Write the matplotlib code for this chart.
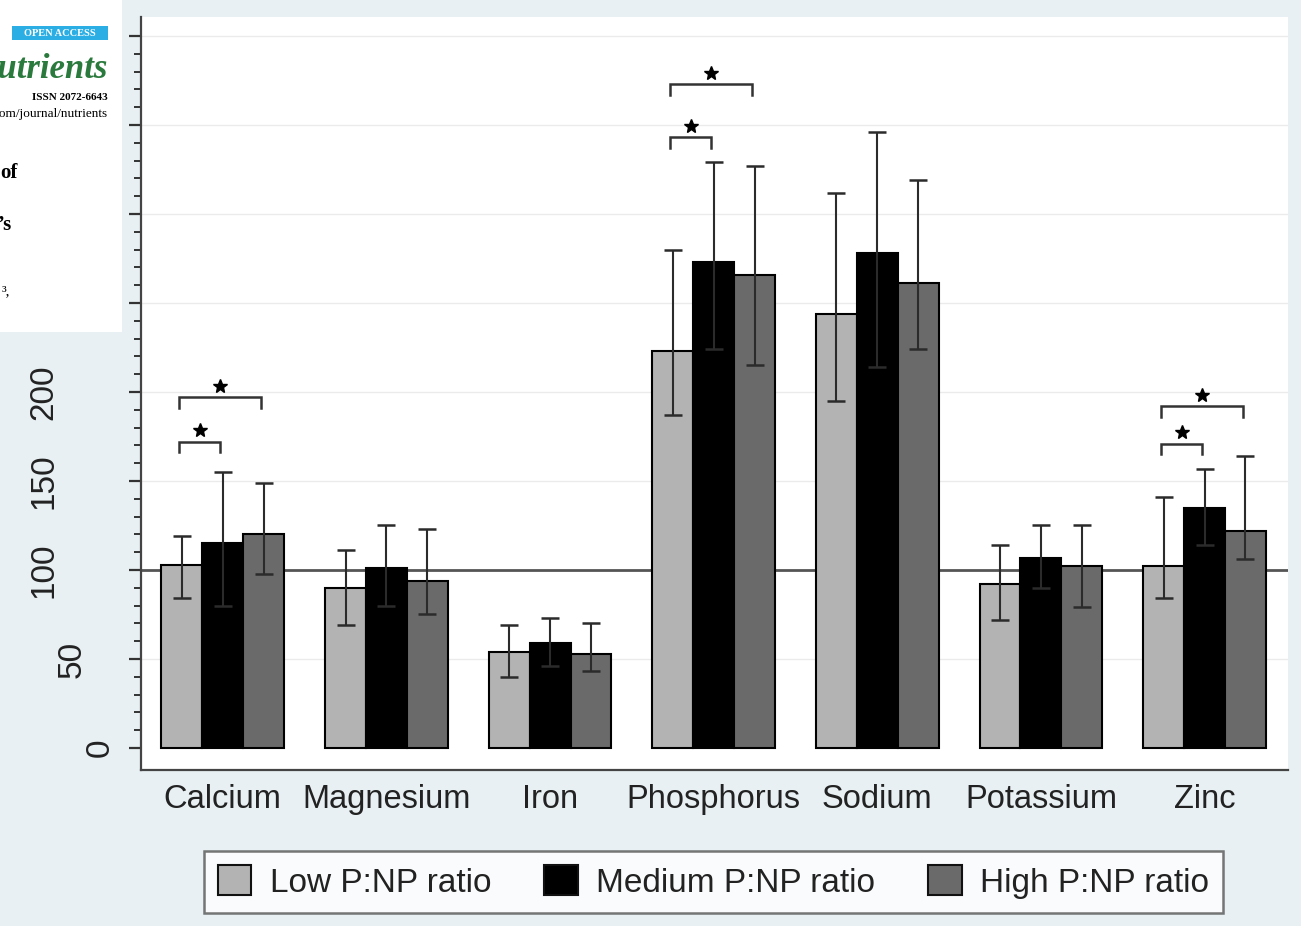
import matplotlib.pyplot as plt
import numpy as np
from matplotlib.patches import Rectangle
from matplotlib.transforms import ScaledTranslation

plt.rcParams['font.family'] = ['Liberation Sans', 'DejaVu Sans']

# data (percent of reference intake)
nutrients = ['Calcium', 'Magnesium', 'Iron', 'Phosphorus', 'Sodium', 'Potassium', 'Zinc']
groups = ['Low P:NP ratio', 'Medium P:NP ratio', 'High P:NP ratio']

low_mean = [103, 90, 54, 223, 244, 92, 102]
low_lo = [84, 69, 40, 187, 195, 72, 84]
low_hi = [119, 111, 69, 280, 312, 114, 141]

med_mean = [115, 101, 59, 273, 278, 107, 135]
med_lo = [80, 80, 46, 224, 214, 90, 114]
med_hi = [155, 125, 73, 329, 346, 125, 157]

high_mean = [120, 94, 53, 266, 261, 102, 122]
high_lo = [98, 75, 43, 215, 224, 79, 106]
high_hi = [149, 123, 70, 327, 319, 125, 164]

# significance brackets: (nutrient index, from group, to group, height)
sig_pairs = [(0, 0, 1, 172), (0, 0, 2, 197),
             (3, 0, 1, 343), (3, 0, 2, 373),
             (6, 0, 1, 171), (6, 0, 2, 192)]

# y labels that are not hidden by the pasted header
ylabels_shown = [0, 50, 100, 150, 200, 250]

colors = ['#b3b3b3', '#000000', '#6a6a6a']
bg = '#e8f0f3'

fig = plt.figure(figsize=(13.01, 9.26), dpi=100, facecolor=bg)
ax = fig.add_axes([141 / 1301, 1 - 770 / 926, (1288 - 141) / 1301, (770 - 17) / 926])
ax.set_facecolor('white')

x = np.arange(len(nutrients))
w = 0.25
means = [low_mean, med_mean, high_mean]
los = [low_lo, med_lo, high_lo]
his = [low_hi, med_hi, high_hi]

for yv in range(50, 401, 50):
    if yv != 100:
        ax.axhline(yv, color='#ebebeb', lw=1, zorder=0)
ax.axhline(100, color='#555555', lw=2, zorder=1)

for i in range(3):
    m = np.array(means[i])
    xs = x + (i - 1) * w
    ax.bar(xs, m, width=w, color=colors[i], edgecolor='black', linewidth=1.5,
           zorder=2, label=groups[i])
    ax.errorbar(xs, m, yerr=[m - np.array(los[i]), np.array(his[i]) - m],
                fmt='none', ecolor='#2b2b2b', elinewidth=1.5, capsize=6.5,
                capthick=1.8, zorder=3)

for n, a, b, h in sig_pairs:
    x0 = x[n] + (a - 1) * w - 0.015
    x1 = x[n] + (b - 1) * w - 0.015
    ax.plot([x0, x0, x1, x1], [h - 6, h, h, h - 6], color='#333333', lw=1.8,
            zorder=4, solid_joinstyle='miter')
    ax.plot((x0 + x1) / 2, h + 6.5, marker='*', ms=10, color='black', zorder=4)

ax.set_xlim(-0.5, 6.51)
ax.set_ylim(-12.4, 410.7)

ax.set_xticks(x, nutrients, fontsize=23.5, color='#222222')
ax.tick_params(axis='x', length=0, pad=10)

ax.set_yticks(np.arange(0, 401, 50))
ax.set_yticks(np.arange(0, 401, 10), minor=True)
ax.tick_params(axis='y', which='major', length=9, width=1.6, color='#333333',
               labelleft=False)
ax.tick_params(axis='y', which='minor', length=5, width=1.4, color='#333333')

for v in ylabels_shown:
    nd = len(str(v))
    off = ScaledTranslation(-(13 + 28 * nd) / 100, 0, fig.dpi_scale_trans)
    ax.text(0, v, str(v), transform=ax.get_yaxis_transform() + off,
            rotation=90, ha='center', va='center', fontsize=24, color='#222222')

for s in ['top', 'right']:
    ax.spines[s].set_visible(False)
for s in ['left', 'bottom']:
    ax.spines[s].set_color('#444444')
    ax.spines[s].set_linewidth(1.6)

handles = [Rectangle((0, 0), 1, 1, facecolor=c, edgecolor='#111111', lw=1.5)
           for c in colors]
leg = fig.legend(handles, groups, loc='center', bbox_to_anchor=(713.5 / 1301, 1 - 882 / 926),
                 ncol=3, fontsize=24, frameon=True, fancybox=False,
                 handlelength=1.0, handleheight=1.0, handletextpad=0.55,
                 columnspacing=1.6, borderpad=0.42)
leg.get_frame().set_edgecolor('#555555')
leg.get_frame().set_linewidth(1.8)
leg.get_frame().set_facecolor('white')
for t in leg.get_texts():
    t.set_color('#222222')

# journal header clipping pasted over the top-left corner
fig.add_artist(Rectangle((0, 1 - 332 / 926), 122 / 1301, 332 / 926,
                         transform=fig.transFigure, facecolor='white',
                         edgecolor='none', zorder=10))
fig.add_artist(Rectangle((12 / 1301, 1 - 40 / 926), 96 / 1301, 14 / 926,
                         transform=fig.transFigure, facecolor='#2aaee4',
                         edgecolor='none', zorder=11))
serif = ['Liberation Serif', 'DejaVu Serif']
fig.text(60 / 1301, 1 - 33 / 926, 'OPEN ACCESS', color='white', fontsize=7.5,
         fontweight='bold', family=serif, ha='center', va='center', zorder=12)
fig.text(108 / 1301, 1 - 78 / 926, 'nutrients', color='#2b7a3d', fontsize=25,
         fontweight='bold', style='italic', family=serif, ha='right',
         va='baseline', zorder=12)
fig.text(108 / 1301, 1 - 100 / 926, 'ISSN 2072-6643', color='black', fontsize=8,
         fontweight='bold', family=serif, ha='right', va='baseline', zorder=12)
fig.text(108 / 1301, 1 - 117 / 926, 'www.mdpi.com/journal/nutrients', color='black',
         fontsize=9.5, family=serif, ha='right', va='baseline', zorder=12)
fig.text(18 / 1301, 1 - 178 / 926, 'of', color='black', fontsize=15,
         fontweight='bold', family=serif, ha='right', va='baseline', zorder=12)
fig.text(12 / 1301, 1 - 230 / 926, '\u2019s', color='black', fontsize=15,
         fontweight='bold', family=serif, ha='right', va='baseline', zorder=12)
fig.text(10 / 1301, 1 - 295 / 926, '\u00b3,', color='black', fontsize=11,
         family=serif, ha='right', va='baseline', zorder=12)

fig.savefig('out.png', dpi=100, facecolor=bg)
